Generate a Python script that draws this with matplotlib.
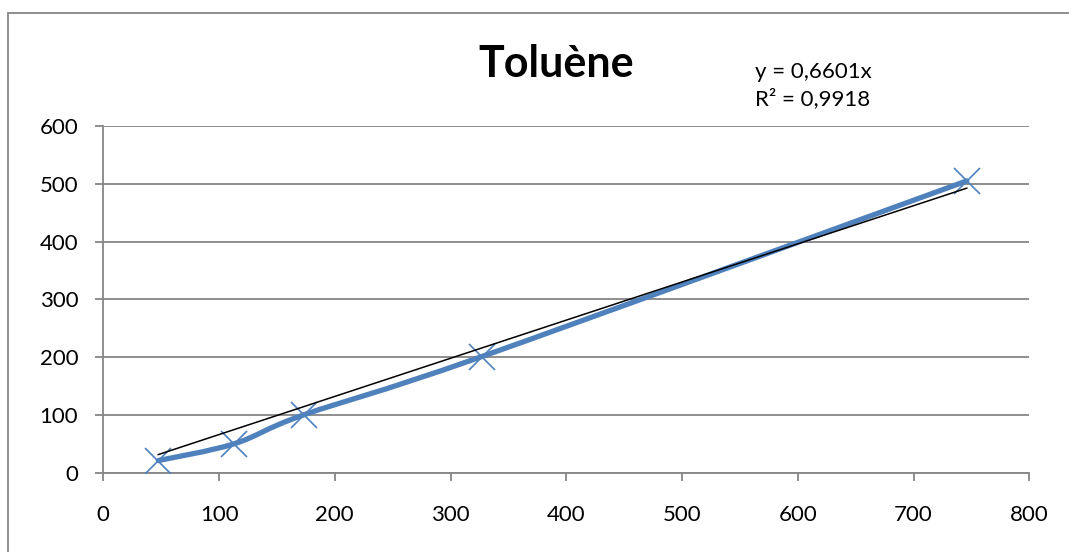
import numpy as np
import matplotlib.pyplot as plt
from matplotlib.path import Path
from matplotlib.patches import PathPatch, Rectangle

# données
x_vals = [47.5, 113, 173, 327, 746]
y_vals = [21, 50, 100, 201, 505]
slope = 0.6601
r2 = 0.9918
title = "Toluène"

blue = "#4F81BD"
grey = "#868686"

plt.rcParams["font.family"] = ["Lato", "DejaVu Sans"]

fig = plt.figure(figsize=(10.69, 5.52), dpi=100)
ax = fig.add_axes([103.3 / 1069, 1 - 472.7 / 552, 926 / 1069, 346.7 / 552])

# cadre extérieur du graphique
fig.patches.append(Rectangle((8 / 1069, -0.05), 1.1, 1 - 13 / 552 + 0.05,
                             transform=fig.transFigure, fill=False,
                             edgecolor=grey, linewidth=1.3))

# courbe lissée (style Excel, Bézier type Catmull-Rom)
pts = np.column_stack([x_vals, y_vals])
verts = [tuple(pts[0])]
codes = [Path.MOVETO]
n = len(pts)
for i in range(n - 1):
    p0 = pts[max(i - 1, 0)]
    p1 = pts[i]
    p2 = pts[i + 1]
    p3 = pts[min(i + 2, n - 1)]
    c1 = p1 + (p2 - p0) / 6
    c2 = p2 - (p3 - p1) / 6
    verts += [tuple(c1), tuple(c2), tuple(p2)]
    codes += [Path.CURVE4] * 3
ax.add_patch(PathPatch(Path(verts, codes), fill=False, edgecolor=blue,
                       linewidth=3.8, capstyle="round", zorder=3))
ax.plot(x_vals, y_vals, linestyle="none", marker="x", markersize=19,
        markeredgewidth=1.2, color=blue, zorder=4)

# courbe de tendance
tx = np.array([min(x_vals), max(x_vals)])
ax.plot(tx, slope * tx, color="black", linewidth=1.1, zorder=5)

ax.set_xlim(0, 800)
ax.set_ylim(0, 600)
ax.set_xticks(range(0, 801, 100))
ax.set_yticks(range(0, 601, 100))
ax.grid(axis="y", color=grey, linewidth=1.3)
ax.set_axisbelow(True)
for s in ["top", "right"]:
    ax.spines[s].set_visible(False)
for s in ["left", "bottom"]:
    ax.spines[s].set_color(grey)
    ax.spines[s].set_linewidth(1.3)
ax.tick_params(axis="both", direction="out", length=6, width=1.3, color=grey,
               labelsize=16, labelcolor="black")
ax.tick_params(axis="x", pad=17)
ax.tick_params(axis="y", pad=12)

fig.text(556 / 1069, 1 - 76.7 / 552, title, fontsize=31, fontweight="bold",
         ha="center", va="baseline")
fig.text(755 / 1069, 1 - 78.3 / 552, f"y = {slope}x".replace(".", ","),
         fontsize=16, ha="left", va="baseline")
fig.text(755 / 1069, 1 - 105 / 552, f"R² = {r2}".replace(".", ","),
         fontsize=16, ha="left", va="baseline")

fig.savefig("out.png", dpi=100)
